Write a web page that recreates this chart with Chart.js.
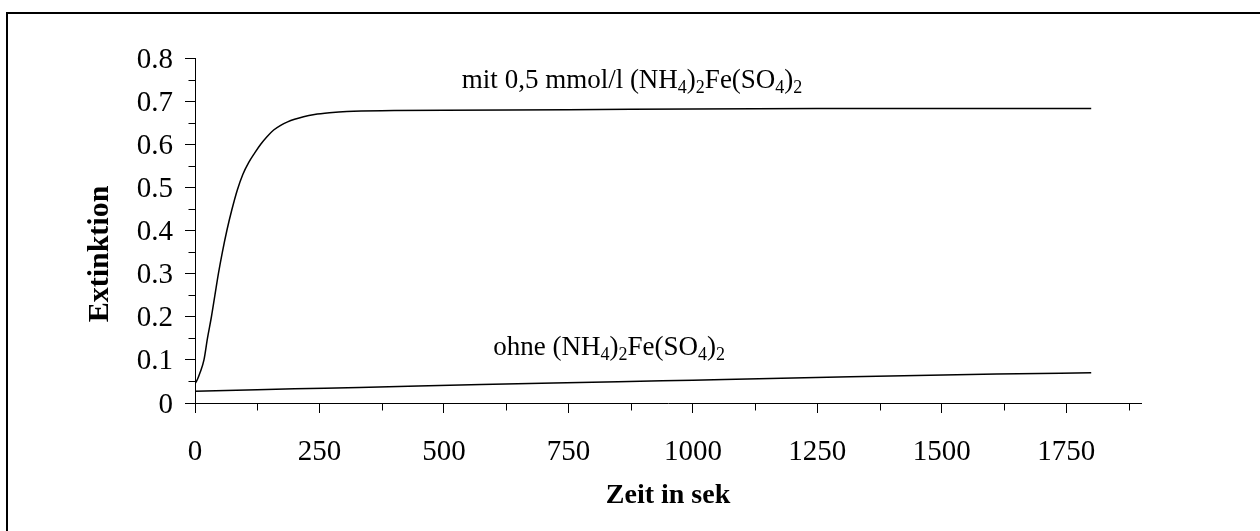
<!DOCTYPE html>
<html>
<head>
<meta charset="utf-8">
<script src="https://cdn.jsdelivr.net/npm/chart.js@4/dist/chart.umd.min.js"></script>
<style>
  html, body { margin: 0; padding: 0; background: #fff; overflow: hidden; }
  #c { position: absolute; left: 0; top: 0; }
</style>
</head>
<body>
<canvas id="c" width="1260" height="531"></canvas>
<script>
// Extinktion vs. Zeit.
const timeWithFe = [0, 5, 10, 18, 25, 33, 40, 47, 55, 64, 74, 85, 96, 108, 120, 132, 145, 158, 172, 186, 200, 218, 240, 270, 305, 400, 500, 750, 1000, 1250, 1500, 1800];
const extWithFe  = [0.045, 0.055, 0.07, 0.1, 0.15, 0.2, 0.25, 0.3, 0.35, 0.4, 0.448, 0.494, 0.53, 0.558, 0.58, 0.6, 0.618, 0.633, 0.644, 0.652, 0.658, 0.664, 0.669, 0.673, 0.676, 0.678, 0.679, 0.680, 0.682, 0.683, 0.683, 0.683];

const timeWithout = [0, 125, 200, 330, 575, 850, 1000, 1316, 1610, 1800];
const extWithout  = [0.027, 0.031, 0.033, 0.036, 0.043, 0.049, 0.053, 0.061, 0.067, 0.070];

const xMinorTicks = [125, 375, 625, 875, 1125, 1375, 1625, 1875];
const yMinorTicks = [0.05, 0.15, 0.25, 0.35, 0.45, 0.55, 0.65, 0.75];

// labels: [text, isSubscript]
const labelWithFe = [['mit 0,5 mmol/l (NH', 0], ['4', 1], [')', 0], ['2', 1], ['Fe(SO', 0], ['4', 1], [')', 0], ['2', 1]];
const labelWithout = [['ohne (NH', 0], ['4', 1], [')', 0], ['2', 1], ['Fe(SO', 0], ['4', 1], [')', 0], ['2', 1]];

const SERIF = '"Liberation Serif", "Times New Roman", serif';

function pts(xs, ys) { return xs.map((x, i) => ({ x: x, y: ys[i] })); }

function drawRich(ctx, parts, x, y, size) {
  ctx.textAlign = 'left';
  ctx.textBaseline = 'alphabetic';
  for (const [t, sub] of parts) {
    ctx.font = (sub ? Math.round(size * 0.66) : size) + 'px ' + SERIF;
    ctx.fillText(t, x, sub ? y + size * 0.2 : y);
    x += ctx.measureText(t).width;
  }
}

const extras = {
  id: 'extras',
  afterDraw(chart) {
    const ctx = chart.ctx, xs = chart.scales.x, ys = chart.scales.y;
    ctx.save();
    // outer frame (only top and left edges show in the picture)
    ctx.fillStyle = '#000';
    ctx.fillRect(6, 12, chart.width - 6, 2);
    ctx.fillRect(6, 12, 2, chart.height - 12);

    ctx.strokeStyle = '#000';
    ctx.lineWidth = 1;
    ctx.beginPath();
    const axisY = Math.round(ys.getPixelForValue(0)) + 0.5;
    xMinorTicks.forEach(v => {
      const px = Math.round(xs.getPixelForValue(v)) + 0.5;
      ctx.moveTo(px, axisY); ctx.lineTo(px, axisY + 7);
    });
    const axisX = Math.round(xs.getPixelForValue(0)) + 0.5;
    yMinorTicks.forEach(v => {
      const py = Math.round(ys.getPixelForValue(v)) + 0.5;
      ctx.moveTo(axisX, py); ctx.lineTo(axisX - 7, py);
    });
    ctx.stroke();

    drawRich(ctx, labelWithFe, xs.getPixelForValue(536), ys.getPixelForValue(0.7305), 27);
    drawRich(ctx, labelWithout, xs.getPixelForValue(599), ys.getPixelForValue(0.112), 27);

    // axis titles
    ctx.textAlign = 'center';
    ctx.textBaseline = 'middle';
    ctx.font = 'bold 28px ' + SERIF;
    ctx.fillText('Zeit in sek', (chart.chartArea.left + chart.chartArea.right) / 2, 496);
    ctx.font = 'bold 30px ' + SERIF;
    ctx.translate(100, 254);
    ctx.rotate(-Math.PI / 2);
    ctx.fillText('Extinktion', 0, 0);
    ctx.restore();
  }
};

new Chart(document.getElementById('c'), {
  type: 'line',
  data: {
    datasets: [
      { data: pts(timeWithFe, extWithFe), borderColor: '#000', borderWidth: 1.5, pointRadius: 0, cubicInterpolationMode: 'monotone', fill: false },
      { data: pts(timeWithout, extWithout), borderColor: '#000', borderWidth: 1.5, pointRadius: 0, cubicInterpolationMode: 'monotone', fill: false }
    ]
  },
  options: {
    responsive: false,
    animation: false,
    events: [],
    layout: { padding: { left: 0, top: 58, right: 119, bottom: 0 } },
    plugins: { legend: { display: false }, tooltip: { enabled: false }, title: { display: false } },
    scales: {
      x: {
        type: 'linear', min: 0, max: 1900,
        afterFit: s => { s.height = 128; },
        ticks: { stepSize: 250, includeBounds: false, color: '#000', padding: 22, maxRotation: 0, autoSkip: false,
                 font: { family: SERIF, size: 29 }, callback: v => String(v) },
        grid: { drawOnChartArea: false, drawTicks: true, tickLength: 10, color: '#000', tickColor: '#000' },
        border: { color: '#000', width: 1 }
      },
      y: {
        type: 'linear', min: 0, max: 0.8,
        afterFit: s => { s.width = 195; },
        ticks: { stepSize: 0.1, includeBounds: false, color: '#000', padding: 12, labelOffset: 2,
                 font: { family: SERIF, size: 29 },
                 callback: v => v === 0 ? '0' : v.toFixed(1) },
        grid: { drawOnChartArea: false, drawTicks: true, tickLength: 10, color: '#000', tickColor: '#000' },
        border: { color: '#000', width: 1 }
      }
    }
  },
  plugins: [extras]
});
</script>
</body>
</html>
